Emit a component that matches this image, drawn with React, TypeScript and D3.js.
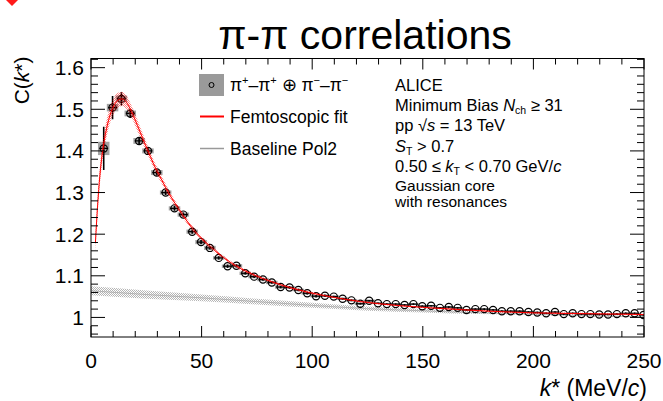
import React from 'react'
import * as d3 from 'd3'

// bin centres of k* (MeV/c), 4 MeV bins
const kStar = d3.range(62).map(i => 5.75 + 4 * i)

// measured correlation function
const corr = [
    1.406, 1.504, 1.525, 1.490, 1.424, 1.400, 1.348, 1.300, 1.262, 1.247,
    1.206, 1.181, 1.167, 1.143, 1.123, 1.124, 1.106, 1.098, 1.091, 1.084,
    1.073, 1.072, 1.066, 1.058, 1.051, 1.052, 1.050, 1.045, 1.041, 1.033,
    1.040, 1.034, 1.032, 1.032, 1.030, 1.032, 1.027, 1.028, 1.023, 1.025,
    1.023, 1.018, 1.020, 1.020, 1.018, 1.015, 1.015, 1.015, 1.013, 1.012,
    1.010, 1.013, 1.008, 1.010, 1.008, 1.008, 1.007, 1.007, 1.008, 1.010,
    1.010, 1.006
]
const statErr = [
    0.052, 0.028, 0.016, 0.011, 0.009, 0.008, 0.007, 0.006, 0.006, 0.005,
    0.005, 0.005, 0.004, 0.004, 0.004, 0.004, 0.003, 0.003, 0.003, 0.003,
    0.003, 0.003, 0.003, 0.003, 0.003, 0.003, 0.002, 0.002, 0.002, 0.002,
    0.002, 0.002, 0.002, 0.002, 0.002, 0.002, 0.002, 0.002, 0.002, 0.002,
    0.002, 0.002, 0.002, 0.002, 0.002, 0.002, 0.002, 0.002, 0.002, 0.002,
    0.002, 0.002, 0.002, 0.002, 0.002, 0.002, 0.002, 0.002, 0.002, 0.002,
    0.002, 0.002
]
const sysErr = [
    0.016, 0.009, 0.008, 0.007, 0.007, 0.006, 0.006, 0.005, 0.005, 0.005,
    0.005, 0.005, 0.005, 0.004, 0.004, 0.004, 0.004, 0.004, 0.004, 0.004,
    0.004, 0.003, 0.003, 0.003, 0.003, 0.003, 0.003, 0.003, 0.003, 0.003,
    0.003, 0.002, 0.002, 0.002, 0.002, 0.002, 0.002, 0.002, 0.002, 0.002,
    0.002, 0.002, 0.002, 0.002, 0.002, 0.002, 0.002, 0.002, 0.002, 0.002,
    0.001, 0.001, 0.001, 0.001, 0.001, 0.001, 0.001, 0.001, 0.001, 0.001,
    0.001, 0.001
]

// femtoscopic fit (central value and band half width)
const fitK = [2, 3, 4, 5, 6, 8, 10, 12, 14, 16, 18, 20, 22, 24, 26, 28, 30, 32, 35, 38,
    42, 46, 50, 54, 58, 62, 70, 78, 86, 94, 102, 110, 122, 140, 160, 180, 200, 225, 250]
const fitC = [1.18, 1.27, 1.34, 1.39, 1.425, 1.475, 1.505, 1.521, 1.525, 1.517, 1.498,
    1.474, 1.448, 1.422, 1.397, 1.372, 1.350, 1.330, 1.300, 1.274, 1.242, 1.213, 1.190,
    1.170, 1.152, 1.136, 1.111, 1.093, 1.078, 1.066, 1.056, 1.048, 1.038, 1.028, 1.021,
    1.015, 1.011, 1.009, 1.007]
const fitErr = [0.022, 0.022, 0.022, 0.021, 0.021, 0.02, 0.019, 0.018, 0.017, 0.016, 0.015,
    0.014, 0.013, 0.012, 0.011, 0.010, 0.010, 0.009, 0.008, 0.007, 0.006, 0.006, 0.005,
    0.005, 0.004, 0.004, 0.004, 0.003, 0.003, 0.003, 0.003, 0.002, 0.002, 0.002, 0.002,
    0.002, 0.002, 0.002, 0.002]

// baseline pol2
const baseK = [0, 25, 50, 75, 100, 125, 150, 175, 200, 225, 250]
const baseC = [1.064, 1.055, 1.047, 1.038, 1.029, 1.021, 1.016, 1.011, 1.008, 1.004, 1.0015]
const baseErr = [0.011, 0.010, 0.008, 0.007, 0.006, 0.005, 0.004, 0.003, 0.002, 0.002, 0.001]

const xTicks = [0, 50, 100, 150, 200, 250]
const yTicks = [1, 1.1, 1.2, 1.3, 1.4, 1.5, 1.6]

const font = '"Liberation Sans", Arial, Helvetica, sans-serif'

const App = () => {
    const W = 663, H = 401
    const L = 91, R = 644, T = 58.5, B = 337

    const x = d3.scaleLinear().domain([0, 250]).range([L, R])
    const y = d3.scaleLinear().domain([0.953, 1.622]).range([B, T])

    const fitPts = fitK.map((k, i) => ({ k, c: fitC[i], e: fitErr[i] }))
    const basePts = baseK.map((k, i) => ({ k, c: baseC[i], e: baseErr[i] }))

    const band = d3.area<any>()
        .x(d => x(d.k))
        .y0(d => y(d.c - d.e))
        .y1(d => y(d.c + d.e))
        .curve(d3.curveMonotoneX)
    const line = d3.line<any>()
        .x(d => x(d.k))
        .y(d => y(d.c))
        .curve(d3.curveMonotoneX)

    const xMinor = d3.range(0, 251, 10).filter(v => v % 50 !== 0)
    const yMinor = d3.range(48, 82).filter(i => i % 5 !== 0).map(i => i * 0.02)

    const halfBin = 2, sysHalf = 2.6

    return (
        <svg width={W} height={H} style={{ position: 'absolute', left: 0, top: 0, background: '#fff' }}
            fontFamily={font}>
            <defs>
                <pattern id="redHatch" width="2" height="2" patternUnits="userSpaceOnUse">
                    <rect x="0" y="0" width="1" height="1" fill="#ff0000" opacity="0.5" />
                    <rect x="1" y="1" width="1" height="1" fill="#ff0000" opacity="0.5" />
                </pattern>
                <pattern id="grayHatch" width="2" height="2" patternUnits="userSpaceOnUse">
                    <rect x="0" y="0" width="1" height="1" fill="#b5b5b5" />
                    <rect x="1" y="1" width="1" height="1" fill="#b5b5b5" />
                </pattern>
                <clipPath id="frame">
                    <rect x={L} y={T} width={R - L} height={B - T} />
                </clipPath>
            </defs>

            {/* logo corner */}
            <polygon points="6,0 18,0 12,6" fill="#ff1a1a" />

            {/* Title */}
            <text x={365} y={49} textAnchor="middle" fontSize={41}>π-π correlations</text>

            <g clipPath="url(#frame)">
                {/* baseline */}
                <path d={band(basePts)!} fill="url(#grayHatch)" />
                <path d={line(basePts)!} fill="none" stroke="#aaa" strokeWidth={0.8} />

                {/* systematic boxes */}
                {kStar.map((k, i) => (
                    <rect key={'s' + i} x={x(k - sysHalf)} width={x(k + sysHalf) - x(k - sysHalf)}
                        y={y(corr[i] + sysErr[i])} height={y(corr[i] - sysErr[i]) - y(corr[i] + sysErr[i])}
                        fill="#a3a3a3" />
                ))}

                {/* stat errors */}
                {kStar.map((k, i) => (
                    <g key={'e' + i} stroke="#000" strokeWidth={1.6}>
                        <line x1={x(k)} x2={x(k)} y1={y(corr[i] - statErr[i])} y2={y(corr[i] + statErr[i])} />
                        <line x1={x(k - halfBin)} x2={x(k + halfBin)} y1={y(corr[i])} y2={y(corr[i])} strokeWidth={1.2} />
                    </g>
                ))}
                {kStar.map((k, i) => (
                    <circle key={'m' + i} cx={x(k)} cy={y(corr[i])} r={3.6}
                        fill="none" stroke="#000" strokeWidth={1.2} />
                ))}

                {/* fit drawn over the data */}
                <path d={band(fitPts)!} fill="url(#redHatch)" />
                <path d={line(fitPts)!} fill="none" stroke="#ff0000" strokeWidth={1} />
            </g>

            {/* frame */}
            <rect x={L} y={T} width={R - L} height={B - T} fill="none" stroke="#000" strokeWidth={1} />

            {/* x ticks */}
            {xTicks.map(v => (
                <g key={'xt' + v} stroke="#000">
                    <line x1={x(v)} x2={x(v)} y1={B} y2={B - 11} />
                    <line x1={x(v)} x2={x(v)} y1={T} y2={T + 11} />
                </g>
            ))}
            {xMinor.map(v => (
                <g key={'xm' + v} stroke="#000">
                    <line x1={x(v)} x2={x(v)} y1={B} y2={B - 6} />
                    <line x1={x(v)} x2={x(v)} y1={T} y2={T + 6} />
                </g>
            ))}
            {xTicks.map(v => (
                <text key={'xl' + v} x={x(v)} y={368} textAnchor="middle" fontSize={21}>{v}</text>
            ))}

            {/* y ticks */}
            {yTicks.map(v => (
                <g key={'yt' + v} stroke="#000">
                    <line x1={L} x2={L + 14} y1={y(v)} y2={y(v)} />
                    <line x1={R} x2={R - 14} y1={y(v)} y2={y(v)} />
                </g>
            ))}
            {yMinor.map(v => (
                <g key={'ym' + v} stroke="#000">
                    <line x1={L} x2={L + 7} y1={y(v)} y2={y(v)} />
                    <line x1={R} x2={R - 7} y1={y(v)} y2={y(v)} />
                </g>
            ))}
            {yTicks.map(v => (
                <text key={'yl' + v} x={84} y={y(v) + 7.5} textAnchor="end" fontSize={21}>
                    {v === 1 ? '1' : v.toFixed(1)}
                </text>
            ))}

            {/* axis titles */}
            <text x={R + 3} y={396} textAnchor="end" fontSize={23}>
                <tspan fontStyle="italic">k</tspan>* (MeV/<tspan fontStyle="italic">c</tspan>)
            </text>
            <text transform={`translate(29,${T - 2}) rotate(-90)`} textAnchor="end" fontSize={21}>
                C(<tspan fontStyle="italic">k</tspan>*)
            </text>

            {/* legend */}
            <rect x={199} y={74} width={25} height={22} fill="#9a9a9a" />
            <circle cx={211.5} cy={85} r={2.5} fill="none" stroke="#000" strokeWidth={1} />
            <text x={230} y={91} fontSize={17.5}>
                π<tspan fontSize={11} dy={-7}>+</tspan><tspan dy={7}>–π</tspan><tspan fontSize={11} dy={-7}>+</tspan>
                <tspan dy={7}> ⊕ π</tspan><tspan fontSize={11} dy={-7}>−</tspan><tspan dy={7}>–π</tspan>
                <tspan fontSize={11} dy={-7}>−</tspan>
            </text>
            <line x1={200} x2={224} y1={116.5} y2={116.5} stroke="#ff0000" strokeWidth={2} />
            <text x={230} y={123} fontSize={17.5}>Femtoscopic fit</text>
            <line x1={200} x2={224} y1={148.5} y2={148.5} stroke="#999" strokeWidth={1.5} />
            <text x={230} y={155} fontSize={17.5}>Baseline Pol2</text>

            {/* info block */}
            <g fontSize={16.5}>
                <text x={395} y={90.5}>ALICE</text>
                <text x={395} y={111}>Minimum Bias <tspan fontStyle="italic">N</tspan>
                    <tspan fontSize={10.5} dy={3}>ch</tspan><tspan dy={-3}> ≥ 31</tspan></text>
                <text x={395} y={131}>pp √<tspan fontStyle="italic">s</tspan> = 13 TeV</text>
                <text x={395} y={151.5}><tspan fontStyle="italic">S</tspan>
                    <tspan fontSize={10.5} dy={3}>T</tspan><tspan dy={-3}> &gt; 0.7</tspan></text>
                <text x={395} y={172}>0.50 ≤ <tspan fontStyle="italic">k</tspan>
                    <tspan fontSize={10.5} dy={3}>T</tspan><tspan dy={-3}> &lt; 0.70 GeV/</tspan>
                    <tspan fontStyle="italic">c</tspan></text>
                <text x={395} y={191} fontSize={15.5}>Gaussian core</text>
                <text x={395} y={207} fontSize={15.5}>with resonances</text>
            </g>
        </svg>
    )
}
export default App
